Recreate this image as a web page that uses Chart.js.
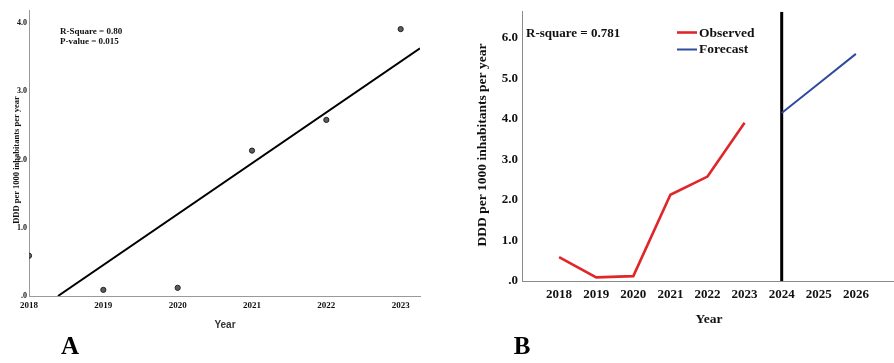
<!DOCTYPE html>
<html>
<head>
<meta charset="utf-8">
<script src="https://cdn.jsdelivr.net/npm/chart.js@4.4.1/dist/chart.umd.min.js"></script>
<style>
  html, body { margin: 0; padding: 0; background: #fff; width: 894px; height: 363px; overflow: hidden; }
  #wrapA { position: absolute; left: 0; top: 0; width: 440px; height: 363px; }
  #wrapB { position: absolute; left: 450px; top: 0; width: 444px; height: 363px; }
</style>
</head>
<body>
<div id="wrapA"><canvas id="chartA"></canvas></div>
<div id="wrapB"><canvas id="chartB"></canvas></div>
<script>
// Yearly consumption, DDD per 1000 inhabitants per year
const years = [2018, 2019, 2020, 2021, 2022, 2023];
const observed = [0.59, 0.09, 0.12, 2.13, 2.58, 3.91];

// Fitted linear trend in panel A (where the drawn line starts and ends)
const fitX = [2018.39, 2023.26];
const fitY = [0, 3.63];

// Forecast continuation in panel B
const forecastYears = [2024, 2025, 2026];
const forecast = [4.15, 4.88, 5.61];
const cutoffYear = 2024;

// Tick labels
const xTicksA = [2018, 2019, 2020, 2021, 2022, 2023];
const yTicksA = [0, 1, 2, 3, 4];
const xTicksB = [2018, 2019, 2020, 2021, 2022, 2023, 2024, 2025, 2026];
const yTicksB = [0, 1, 2, 3, 4, 5, 6];

const yMaxA = 4.19;
const yMaxB = 6.65;

const SERIF = '"Liberation Serif", "Times New Roman", serif';
const SANS = '"Liberation Sans", Arial, sans-serif';

const fmtTick = v => (v === 0 ? '.0' : Number(v).toFixed(1));

// Draws free text (titles, statistics, panel letters) and simple legends
const textPlugin = {
  id: 'freeText',
  afterDraw(chart, args, opts) {
    const ctx = chart.ctx;
    (opts.lines || []).forEach(l => {
      ctx.save();
      ctx.strokeStyle = l.color;
      ctx.lineWidth = l.width;
      ctx.beginPath();
      ctx.moveTo(l.x1, l.y);
      ctx.lineTo(l.x2, l.y);
      ctx.stroke();
      ctx.restore();
    });
    (opts.items || []).forEach(t => {
      ctx.save();
      ctx.font = t.font;
      ctx.fillStyle = t.color || '#111';
      ctx.textAlign = t.align || 'left';
      ctx.textBaseline = 'middle';
      ctx.translate(t.x, t.y);
      if (t.rotate) ctx.rotate(t.rotate);
      ctx.fillText(t.text, 0, 0);
      ctx.restore();
    });
  }
};

// Panel A: observed points with linear trend
new Chart(document.getElementById('chartA'), {
  type: 'scatter',
  data: {
    datasets: [
      {
        label: 'Observed',
        data: years.map((x, i) => ({ x, y: observed[i] })),
        pointRadius: 2.6,
        pointBackgroundColor: '#5c5c5c',
        pointBorderColor: '#222',
        pointBorderWidth: 1,
        showLine: false,
        clip: { left: 0, top: 6, right: 6, bottom: 6 }
      },
      {
        label: 'Linear fit',
        data: fitX.map((x, i) => ({ x, y: fitY[i] })),
        showLine: true,
        borderColor: '#000',
        borderWidth: 2,
        pointRadius: 0
      }
    ]
  },
  options: {
    responsive: true,
    maintainAspectRatio: false,
    animation: false,
    layout: { padding: { top: 10, right: 20, left: 0, bottom: 0 } },
    plugins: {
      legend: { display: false },
      tooltip: { enabled: false },
      freeText: {
        items: [
          { text: 'R-Square = 0.80', x: 60, y: 32, font: 'bold 9px ' + SERIF },
          { text: 'P-value = 0.015', x: 60, y: 42, font: 'bold 9px ' + SERIF },
          { text: 'DDD per 1000 inhabitants per year', x: 17, y: 160, font: 'bold 8.5px ' + SERIF, align: 'center', rotate: -Math.PI / 2 },
          { text: 'Year', x: 225, y: 325, font: 'bold 10px ' + SANS, align: 'center', color: '#333' },
          { text: 'A', x: 70, y: 348, font: 'bold 25px ' + SERIF, align: 'center', color: '#000' }
        ]
      }
    },
    scales: {
      x: {
        type: 'linear',
        min: 2018,
        max: 2023.26,
        afterBuildTicks: s => { s.ticks = xTicksA.map(v => ({ value: v })); },
        afterFit: s => { s.height = 363 - 296; },
        grid: { display: false, drawTicks: false },
        border: { color: '#9a9a9a', width: 1 },
        ticks: { callback: v => String(v), font: { family: SERIF, size: 9, weight: 'bold' }, color: '#111', padding: 4, maxRotation: 0 }
      },
      y: {
        min: 0,
        max: yMaxA,
        afterBuildTicks: s => { s.ticks = yTicksA.map(v => ({ value: v })); },
        afterFit: s => { s.width = 29; },
        grid: { display: false, drawTicks: false },
        border: { color: '#9a9a9a', width: 1 },
        ticks: { callback: fmtTick, font: { family: SERIF, size: 8, weight: 'bold' }, color: '#111', padding: 2 }
      }
    }
  },
  plugins: [textPlugin]
});

// Panel B: observed series, forecast and the forecast start marker
new Chart(document.getElementById('chartB'), {
  type: 'line',
  data: {
    datasets: [
      {
        label: 'Observed',
        data: years.map((x, i) => ({ x, y: observed[i] })),
        borderColor: '#e0262a',
        borderWidth: 2.6,
        pointRadius: 0,
        tension: 0
      },
      {
        label: 'Forecast',
        data: forecastYears.map((x, i) => ({ x, y: forecast[i] })),
        borderColor: '#2f4c9c',
        borderWidth: 2,
        pointRadius: 0,
        tension: 0
      },
      {
        label: 'Forecast start',
        data: [{ x: cutoffYear, y: 0 }, { x: cutoffYear, y: yMaxB }],
        borderColor: '#000',
        borderWidth: 3,
        pointRadius: 0
      }
    ]
  },
  options: {
    responsive: true,
    maintainAspectRatio: false,
    animation: false,
    layout: { padding: { top: 11, right: 1, left: 0, bottom: 0 } },
    plugins: {
      legend: { display: false },
      tooltip: { enabled: false },
      freeText: {
        lines: [
          { x1: 227, x2: 247, y: 32.5, color: '#e0262a', width: 2.6 },
          { x1: 227, x2: 247, y: 49.5, color: '#2f4c9c', width: 2 }
        ],
        items: [
          { text: 'R-square = 0.781', x: 76, y: 34, font: 'bold 13px ' + SERIF },
          { text: 'Observed', x: 249, y: 33.5, font: 'bold 13.5px ' + SERIF },
          { text: 'Forecast', x: 249, y: 50, font: 'bold 13.5px ' + SERIF },
          { text: 'DDD per 1000 inhabitants per year', x: 33, y: 145, font: 'bold 13.5px ' + SERIF, align: 'center', rotate: -Math.PI / 2 },
          { text: 'Year', x: 259, y: 320, font: 'bold 13.5px ' + SERIF, align: 'center' },
          { text: 'B', x: 72, y: 348, font: 'bold 25px ' + SERIF, align: 'center', color: '#000' }
        ]
      }
    },
    scales: {
      x: {
        type: 'linear',
        min: 2017,
        max: 2027,
        afterBuildTicks: s => { s.ticks = xTicksB.map(v => ({ value: v })); },
        afterFit: s => { s.height = 363 - 281; },
        grid: { display: false, drawTicks: false },
        border: { color: '#8a8a8a', width: 1 },
        ticks: { callback: v => String(v), font: { family: SERIF, size: 13, weight: 'bold' }, color: '#111', padding: 6, maxRotation: 0 }
      },
      y: {
        min: 0,
        max: yMaxB,
        afterBuildTicks: s => { s.ticks = yTicksB.map(v => ({ value: v })); },
        afterFit: s => { s.width = 72; },
        grid: { display: false, drawTicks: false },
        border: { color: '#8a8a8a', width: 1 },
        ticks: { callback: fmtTick, font: { family: SERIF, size: 13, weight: 'bold' }, color: '#111', padding: 4 }
      }
    }
  },
  plugins: [textPlugin]
});
</script>
</body>
</html>
